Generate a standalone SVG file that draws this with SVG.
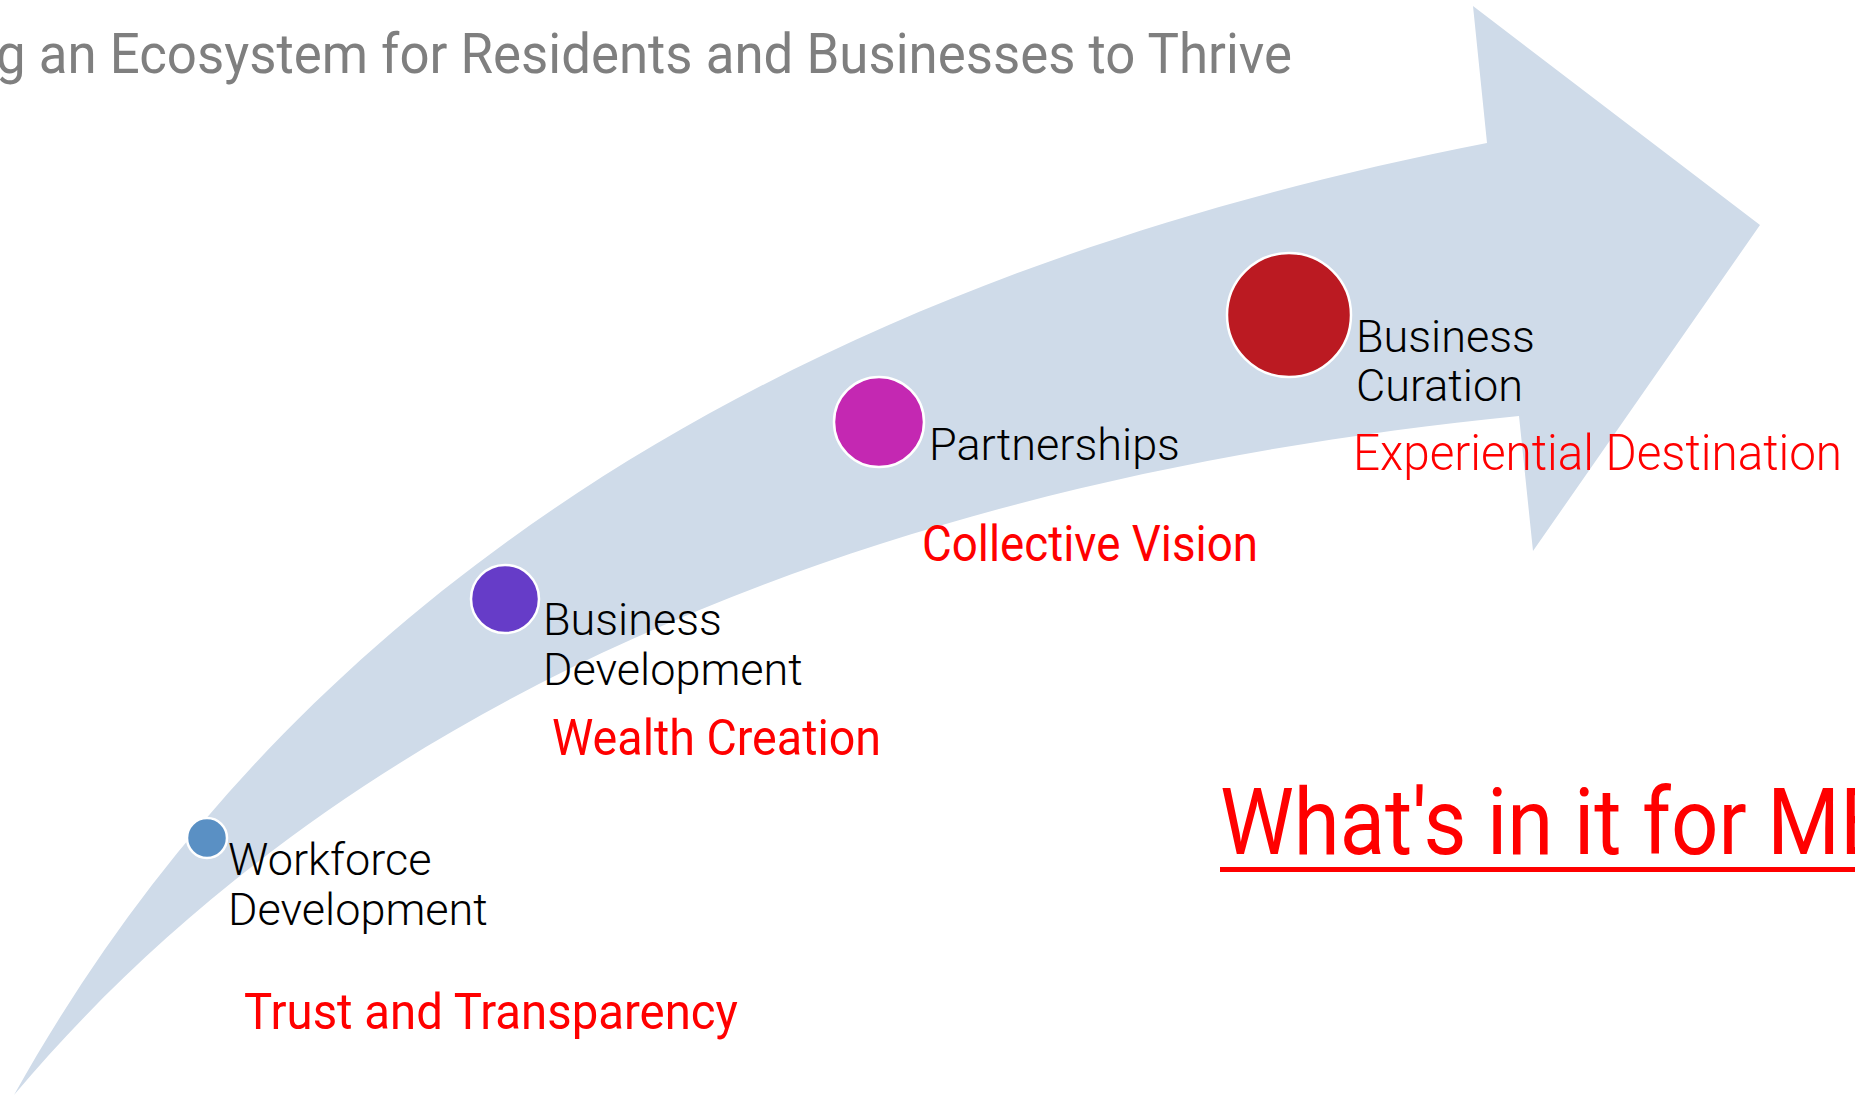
<svg xmlns="http://www.w3.org/2000/svg" width="1855" height="1095" viewBox="0 0 1855 1095">
  <style>
    .title { font-family: Roboto, "Liberation Sans", sans-serif; font-size: 55px; fill: #7f7f7f; }
    .lbl { font-family: Roboto, "Liberation Sans", sans-serif; font-weight: 300; font-size: 45px; fill: #000000; }
    .val { font-family: Roboto, "Liberation Sans", sans-serif; font-size: 50px; fill: #ff0000; }
    .val-light { font-family: Roboto, "Liberation Sans", sans-serif; font-weight: 300; font-size: 50px; fill: #ff0000; }
    .dot { stroke: #ffffff; stroke-width: 2.5; }
    .cta { font-family: Roboto, "Liberation Sans", sans-serif; font-size: 92px; fill: #ff0000; }
  </style>

  <rect width="1855" height="1095" fill="#ffffff"/>

  <!-- curved progress arrow -->
  <g id="connectors">
    <path id="growth-arrow" fill="#cfdbe9"
      d="M14,1095 C308,568 828,272 1487,143 L1473,6 L1760,225 L1533,551 L1519,416 C946,473 379,662 14,1095 Z"/>
  </g>

  <text class="title" x="-4" y="73" textLength="1296" lengthAdjust="spacingAndGlyphs">g an Ecosystem for Residents and Businesses to Thrive</text>

  <g id="workforce">
    <circle class="dot" cx="207" cy="838" r="20" fill="#5a90c4"/>
    <text class="lbl" x="228" y="875">Workforce</text>
    <text class="lbl" x="228" y="925">Development</text>
    <text class="val" x="244" y="1029" textLength="494" lengthAdjust="spacingAndGlyphs">Trust and Transparency</text>
  </g>

  <g id="business-development">
    <circle class="dot" cx="505" cy="599" r="34" fill="#663cc8"/>
    <text class="lbl" x="543" y="635">Business</text>
    <text class="lbl" x="543" y="685">Development</text>
    <text class="val" x="552" y="755" textLength="329" lengthAdjust="spacingAndGlyphs">Wealth Creation</text>
  </g>

  <g id="partnerships">
    <circle class="dot" cx="879" cy="422" r="45" fill="#c428b2"/>
    <text class="lbl" x="929" y="460">Partnerships</text>
    <text class="val" x="922" y="561" textLength="336" lengthAdjust="spacingAndGlyphs">Collective Vision</text>
  </g>

  <g id="business-curation">
    <circle class="dot" cx="1289" cy="315" r="62" fill="#bb1a22"/>
    <text class="lbl" x="1356" y="352">Business</text>
    <text class="lbl" x="1356" y="401">Curation</text>
    <text class="val-light" x="1353" y="470" textLength="489" lengthAdjust="spacingAndGlyphs">Experiential Destination</text>
  </g>

  <g id="whats-in-it">
    <text class="cta" transform="translate(1220,854) scale(0.905,1)">What's in it for ME</text>
    <rect x="1220" y="867" width="640" height="5" fill="#ff0000"/>
  </g>
</svg>
